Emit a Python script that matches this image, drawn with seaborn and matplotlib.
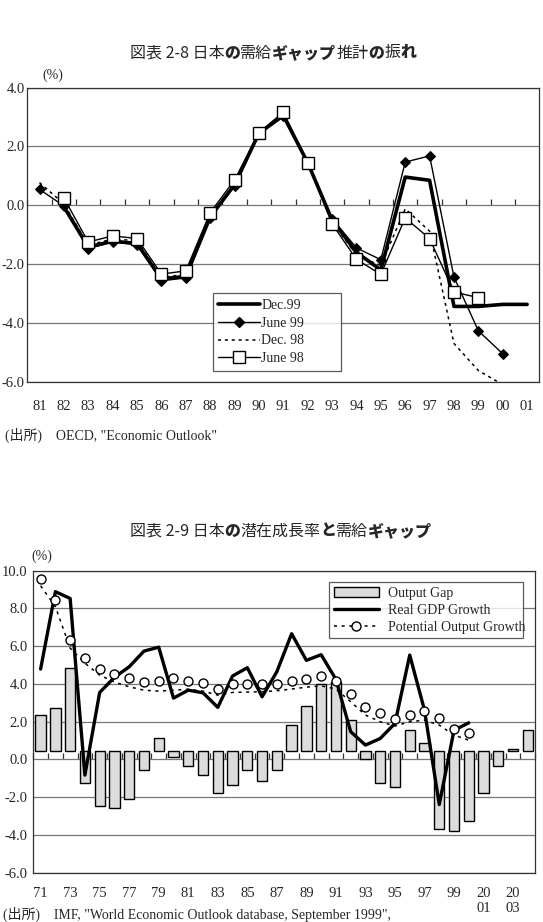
import numpy as np
import pandas as pd
import matplotlib
matplotlib.use("Agg")
import matplotlib.pyplot as plt
from matplotlib.lines import Line2D
from matplotlib.patches import Patch
import seaborn as sns

nan = np.nan

# 図表 2-8: OECD output gap estimates (%)
years_a = ["81", "82", "83", "84", "85", "86", "87", "88", "89", "90", "91",
           "92", "93", "94", "95", "96", "97", "98", "99", "00", "01"]
dec99 = [nan, -0.05, -1.42, -1.22, -1.30, -2.50, -2.42, -0.40, 0.70, 2.45, 3.05,
         1.45, -0.50, -1.60, -2.20, 0.96, 0.85, -3.44, -3.44, -3.37, -3.37]
june99 = [0.54, -0.02, -1.47, -1.25, -1.34, -2.57, -2.47, -0.43, 0.66, 2.45, 3.05,
          1.45, -0.45, -1.45, -1.85, 1.47, 1.68, -2.44, -4.27, -5.05, nan]
dec98 = [0.77, 0.05, -1.35, -1.15, -1.20, -2.45, -2.35, -0.35, 0.75, 2.45, 3.08,
         1.45, -0.55, -1.70, -2.05, -0.12, -0.88, -4.70, -5.62, -6.10, nan]
june98 = [nan, 0.25, -1.25, -1.04, -1.13, -2.34, -2.23, -0.25, 0.86, 2.47, 3.17,
          1.45, -0.63, -1.84, -2.35, -0.43, -1.13, -2.95, -3.14, nan, nan]

# 図表 2-9: IMF output gap, real GDP growth, potential growth (%)
years_b = ["71", "72", "73", "74", "75", "76", "77", "78", "79", "80", "81", "82",
           "83", "84", "85", "86", "87", "88", "89", "90", "91", "92", "93", "94",
           "95", "96", "97", "98", "99", "2000", "2001", "2002", "2003", "2004"]
gap_labels = ["71", "", "73", "", "75", "", "77", "", "79", "", "81", "", "83", "",
              "85", "", "87", "", "89", "", "91", "", "93", "", "95", "", "97", "",
              "99", "", "20\n01", "", "20\n03", ""]
bar_base = 0.44
output_gap = [2.33, 2.74, 4.84, -1.27, -2.45, -2.56, -2.07, -0.57, 1.15, 0.15, -0.35,
              -0.85, -1.78, -1.36, -0.57, -1.16, -0.57, 1.84, 2.84, 3.98, 4.08, 2.07,
              0.03, -1.27, -1.45, 1.55, 0.85, -3.66, -3.78, -3.27, -1.78, -0.35, 0.56,
              1.55]
real_gdp = [4.79, 8.89, 8.53, -0.83, 3.55, 4.35, 4.91, 5.74, 5.95, 3.25, 3.67, 3.53,
            2.76, 4.42, 4.86, 3.32, 4.65, 6.66, 5.25, 5.55, 4.24, 1.47, 0.76, 1.11,
            1.91, 5.53, 2.61, -2.39, 1.55, 1.94]
potential_pts = [9.56, 8.46, 6.31, 5.35, 4.81, 4.54, 4.31, 4.12, 4.15, 4.29, 4.15,
                 4.03, 3.71, 3.98, 4.01, 3.98, 3.99, 4.15, 4.26, 4.42, 4.15, 3.46,
                 2.77, 2.44, 2.12, 2.37, 2.58, 2.17, 1.59, 1.41]
potential_line = [9.2, 8.1, 5.9, 5.1, 4.47, 4.1, 3.85, 3.67, 3.62, 3.67, 3.72, 3.62,
                  3.41, 3.55, 3.57, 3.59, 3.64, 3.73, 3.83, 3.9, 3.73, 3.06, 2.35,
                  2.0, 1.77, 2.0, 2.08, 1.82, 1.29, 1.02]

# title pieces: (text, weight) -- the original mixes light and heavy glyphs
title_a = [("図表 2-8 日本", "normal"), ("の", "heavy"), ("需給", "normal"),
           ("ギャップ", "heavy"), ("推計", "normal"), ("の", "heavy"),
           ("振", "normal"), ("れ", "heavy")]
title_b = [("図表 2-9 日本", "normal"), ("の", "heavy"), ("潜在成長率", "normal"),
           ("と", "heavy"), ("需給", "normal"), ("ギャップ", "heavy")]

sns.set_style("white")
serif = ["Liberation Serif", "Noto Sans CJK JP"]
cjk = ["Noto Sans CJK JP", "DejaVu Sans"]
plt.rcParams["font.family"] = serif
plt.rcParams["axes.unicode_minus"] = False

W, H = 543, 922
fig = plt.figure(figsize=(W / 100, H / 100), dpi=100)
GRID = "#777777"


def style_axes(ax, yticks, n):
    ax.set_xlim(-0.5, n - 0.5)
    ax.set_ylim(yticks[0], yticks[-1])
    ax.set_yticks(yticks)
    ax.set_yticklabels([f"{v:.1f}" for v in yticks])
    ax.yaxis.grid(True, color=GRID, lw=0.9)
    ax.xaxis.grid(False)
    ax.set_axisbelow(True)
    for s in ax.spines.values():
        s.set_color("#333333")
        s.set_linewidth(0.9)
    ax.tick_params(axis="both", length=0, labelsize=10.5)
    ax.set_xlabel("")
    ax.set_ylabel("")
    # small tick marks sitting on the zero line at category boundaries
    frac = -yticks[0] / (yticks[-1] - yticks[0])
    sec = ax.secondary_xaxis(frac)
    sec.set_alignment("bottom")
    sec.set_xticks(np.arange(n + 1) - 0.5)
    sec.tick_params(direction="in", length=4, width=0.9, color="#333333",
                    labelbottom=False, labeltop=False)
    for s in sec.spines.values():
        s.set_visible(False)


def mixed_title(parts, xc, yc, size=11.5):
    r = fig.canvas.get_renderer()
    texts = [fig.text(0, 1 - yc / H, s, fontsize=size, fontweight=w, family=cjk,
                      ha="left", va="center") for s, w in parts]
    widths = [t.get_window_extent(r).width for t in texts]
    x = xc - sum(widths) / 2
    for t, wd in zip(texts, widths):
        t.set_x(x / W)
        x += wd


# ---------------- top chart ----------------
ax1 = fig.add_axes([0.0503, 0.586, 0.9429, 0.3189])
idx_a = np.arange(len(years_a))
top = pd.DataFrame({"i": idx_a, "dec99": dec99, "june99": june99,
                    "dec98": dec98, "june98": june98})

sns.lineplot(data=top, x="i", y="dec99", ax=ax1, color="black", lw=2.6, zorder=3)
sns.lineplot(data=top, x="i", y="june99", ax=ax1, color="black", lw=1.0,
             marker="D", markersize=5, markeredgecolor="black", zorder=4)
sns.lineplot(data=top, x="i", y="dec98", ax=ax1, color="black", lw=1.1,
             linestyle=(0, (2, 2.5)), zorder=4)
sns.lineplot(data=top, x="i", y="june98", ax=ax1, color="black", lw=1.0,
             marker="s", markersize=8, markerfacecolor="white",
             markeredgecolor="black", markeredgewidth=1.0, zorder=5)

style_axes(ax1, [-6.0, -4.0, -2.0, 0.0, 2.0, 4.0], len(years_a))
ax1.set_xticks(idx_a)
ax1.set_xticklabels(years_a)
ax1.tick_params(axis="x", pad=13)
ax1.tick_params(axis="y", pad=2)

h_top = [
    Line2D([], [], color="black", lw=2.6),
    Line2D([], [], color="black", lw=1.0, marker="D", markersize=5),
    Line2D([], [], color="black", lw=1.1, linestyle=(0, (2, 2.5))),
    Line2D([], [], color="black", lw=1.0, marker="s", markersize=8,
           markerfacecolor="white"),
]
leg1 = ax1.legend(h_top, ["Dec.99", "June 99", "Dec. 98", "June 98"],
                  loc="lower left", bbox_to_anchor=(0.362, 0.037, 0.25, 0.284),
                  mode="expand", borderaxespad=0, fancybox=False, frameon=True,
                  edgecolor="#333333", fontsize=10, handlelength=3.0,
                  handletextpad=0.1, labelspacing=0.35, borderpad=0.4)
leg1.get_frame().set_linewidth(0.9)
leg1.set_zorder(10)

mixed_title(title_a, 273, 53)
fig.text(53 / W, 1 - 75 / H, "(%)", ha="center", va="center", fontsize=10)
fig.text(5 / W, 1 - 435 / H, "(出所)\u3000OECD, \"Economic Outlook\"",
         ha="left", va="center", fontsize=10, family=serif)

# ---------------- bottom chart ----------------
ax2 = fig.add_axes([0.0612, 0.0535, 0.9245, 0.3275])
idx_b = np.arange(len(years_b))
gdp_idx = idx_b[:len(real_gdp)]
bottom = pd.DataFrame({"i": gdp_idx, "gdp": real_gdp, "pot": potential_pts,
                       "pot_line": potential_line})

ax2.bar(idx_b, np.array(output_gap) - bar_base, bottom=bar_base, width=0.7,
        color="#dcdcdc", edgecolor="black", linewidth=1.0, zorder=2)
sns.lineplot(data=bottom, x="i", y="pot_line", ax=ax2, color="black", lw=1.1,
             linestyle=(0, (2, 3)), zorder=3)
sns.lineplot(data=bottom, x="i", y="gdp", ax=ax2, color="black", lw=2.4, zorder=4)
sns.scatterplot(data=bottom, x="i", y="pot", ax=ax2, s=42, facecolor="white",
                edgecolor="black", linewidth=1.0, zorder=5)

style_axes(ax2, [-6.0, -4.0, -2.0, 0.0, 2.0, 4.0, 6.0, 8.0, 10.0], len(years_b))
ax2.set_xticks(idx_b)
ax2.set_xticklabels(gap_labels, linespacing=1.2)
ax2.tick_params(axis="x", pad=10)
ax2.tick_params(axis="y", pad=4)

h_bot = [
    Patch(facecolor="#dcdcdc", edgecolor="black", linewidth=1.0),
    Line2D([], [], color="black", lw=2.4),
    (Line2D([], [], color="black", lw=1.1, linestyle=(0, (2, 3))),
     Line2D([], [], color="none", marker="o", markersize=6.5,
            markerfacecolor="white", markeredgecolor="black")),
]
leg2 = ax2.legend(h_bot, ["Output Gap", "Real GDP Growth", "Potential Output Growth"],
                  loc="lower left", bbox_to_anchor=(0.59, 0.777, 0.386, 0.199),
                  mode="expand", borderaxespad=0, fancybox=False, frameon=True,
                  edgecolor="#333333", fontsize=10, handlelength=3.3,
                  handletextpad=0.6, labelspacing=0.3, borderpad=0.3)
leg2.get_frame().set_linewidth(0.9)
leg2.set_zorder(10)

mixed_title(title_b, 281, 531)
fig.text(42 / W, 1 - 556 / H, "(%)", ha="center", va="center", fontsize=10)
fig.text(3 / W, 1 - 914 / H,
         "(出所)\u3000IMF, \"World Economic Outlook database, September 1999\",",
         ha="left", va="center", fontsize=10, family=serif)

fig.savefig("out.png", dpi=100)
